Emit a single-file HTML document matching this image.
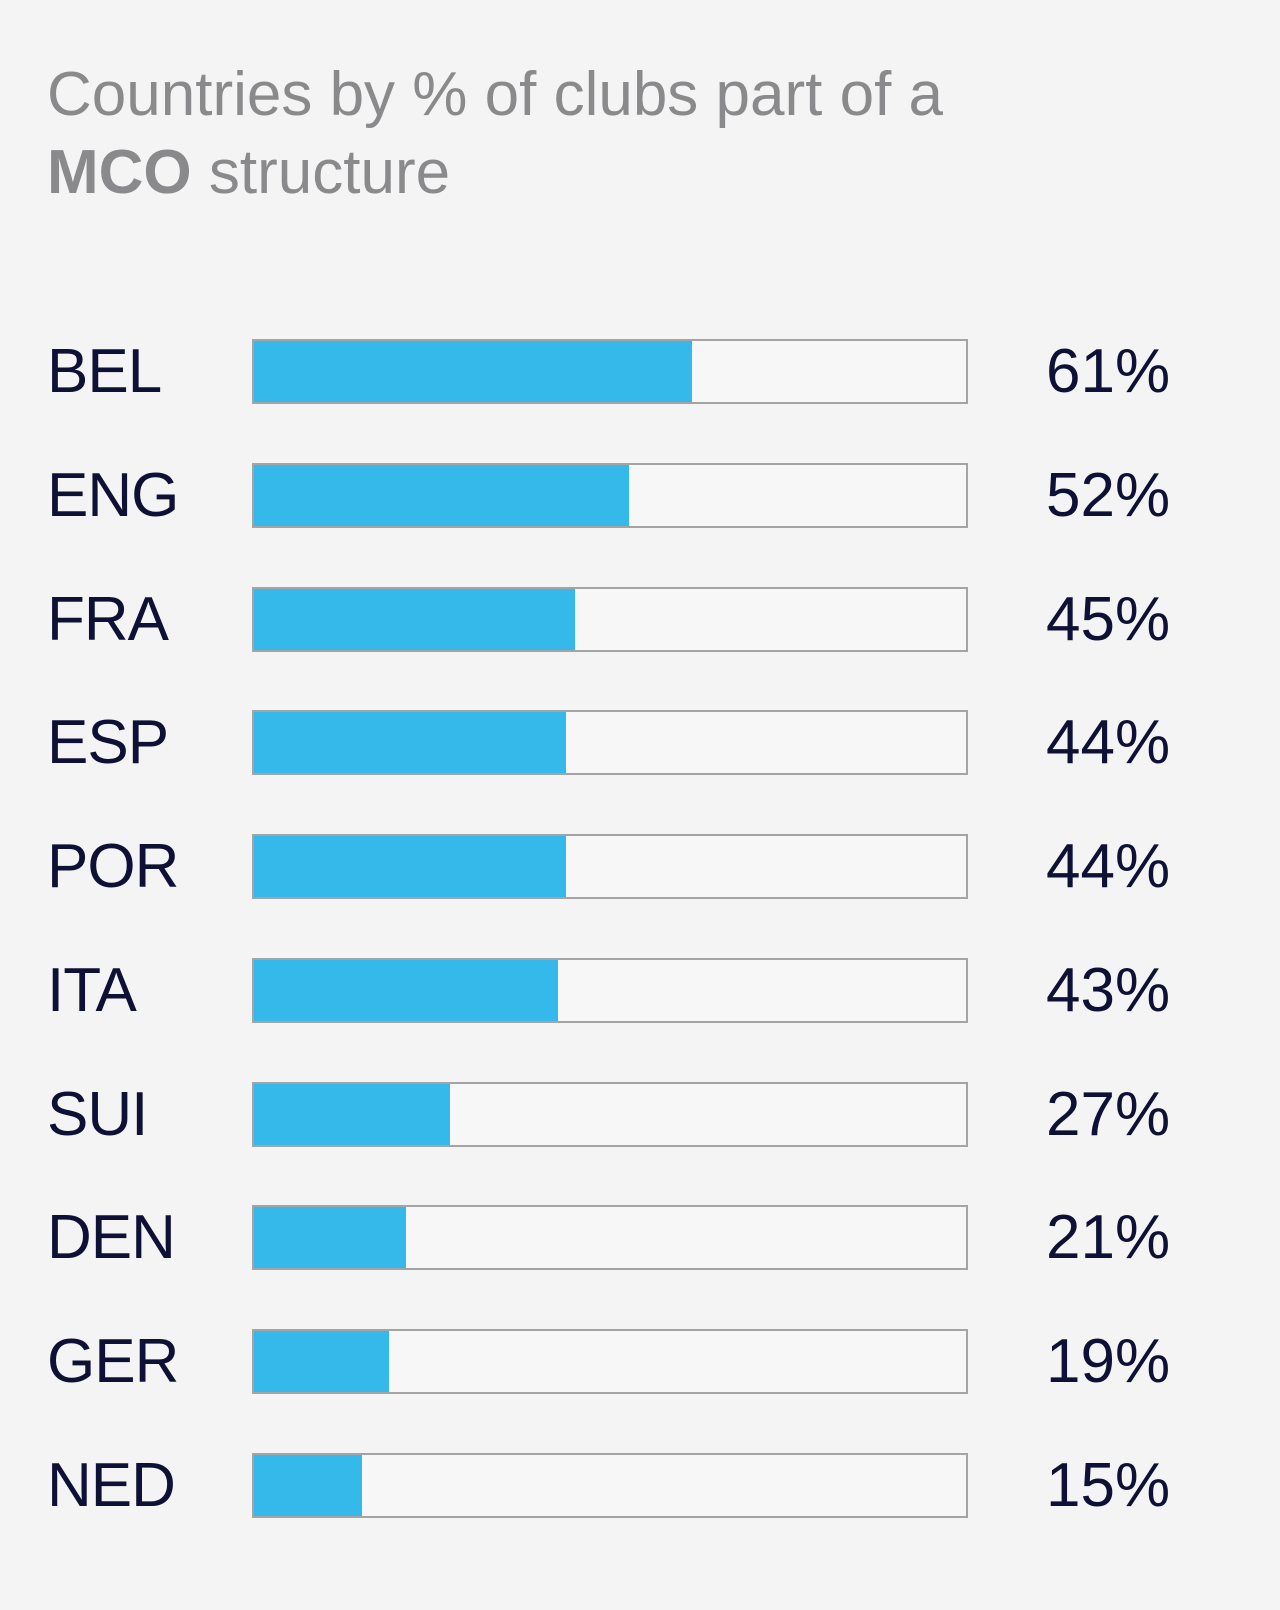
<!DOCTYPE html>
<html>
<head>
<meta charset="utf-8">
<style>
  html,body{margin:0;padding:0;}
  body{width:1280px;height:1610px;background:#f4f4f4;position:relative;overflow:hidden;font-family:"Liberation Sans",sans-serif;}
  .title{position:absolute;left:47px;font-size:62px;line-height:62px;color:#8a8a8c;white-space:nowrap;}
  .lbl{position:absolute;left:47px;font-size:62px;line-height:62px;color:#0e1035;white-space:nowrap;letter-spacing:-1px;}
  .val{position:absolute;left:1046px;font-size:62px;line-height:62px;color:#0e1035;white-space:nowrap;}
  .bar{position:absolute;left:252px;width:716px;height:65px;box-sizing:border-box;border:2px solid #a4a4a4;background:#f7f7f7;}
  .fill{position:absolute;left:0;top:0;height:100%;background:#35b8ea;}
</style>
</head>
<body>
<div class="title" style="top:64px;">Countries by % of clubs part of a</div>
<div class="title" style="top:142px;"><b>MCO</b> structure</div>

<div class="lbl" style="top:341px;">BEL</div>
<div class="bar" style="top:339px;"><div class="fill" style="width:438px;"></div></div>
<div class="val" style="top:341px;">61%</div>

<div class="lbl" style="top:465px;">ENG</div>
<div class="bar" style="top:463px;"><div class="fill" style="width:375px;"></div></div>
<div class="val" style="top:465px;">52%</div>

<div class="lbl" style="top:589px;">FRA</div>
<div class="bar" style="top:587px;"><div class="fill" style="width:321px;"></div></div>
<div class="val" style="top:589px;">45%</div>

<div class="lbl" style="top:712px;">ESP</div>
<div class="bar" style="top:710px;"><div class="fill" style="width:312px;"></div></div>
<div class="val" style="top:712px;">44%</div>

<div class="lbl" style="top:836px;">POR</div>
<div class="bar" style="top:834px;"><div class="fill" style="width:312px;"></div></div>
<div class="val" style="top:836px;">44%</div>

<div class="lbl" style="top:960px;">ITA</div>
<div class="bar" style="top:958px;"><div class="fill" style="width:304px;"></div></div>
<div class="val" style="top:960px;">43%</div>

<div class="lbl" style="top:1084px;">SUI</div>
<div class="bar" style="top:1082px;"><div class="fill" style="width:196px;"></div></div>
<div class="val" style="top:1084px;">27%</div>

<div class="lbl" style="top:1207px;">DEN</div>
<div class="bar" style="top:1205px;"><div class="fill" style="width:152px;"></div></div>
<div class="val" style="top:1207px;">21%</div>

<div class="lbl" style="top:1331px;">GER</div>
<div class="bar" style="top:1329px;"><div class="fill" style="width:135px;"></div></div>
<div class="val" style="top:1331px;">19%</div>

<div class="lbl" style="top:1455px;">NED</div>
<div class="bar" style="top:1453px;"><div class="fill" style="width:108px;"></div></div>
<div class="val" style="top:1455px;">15%</div>
</body>
</html>
